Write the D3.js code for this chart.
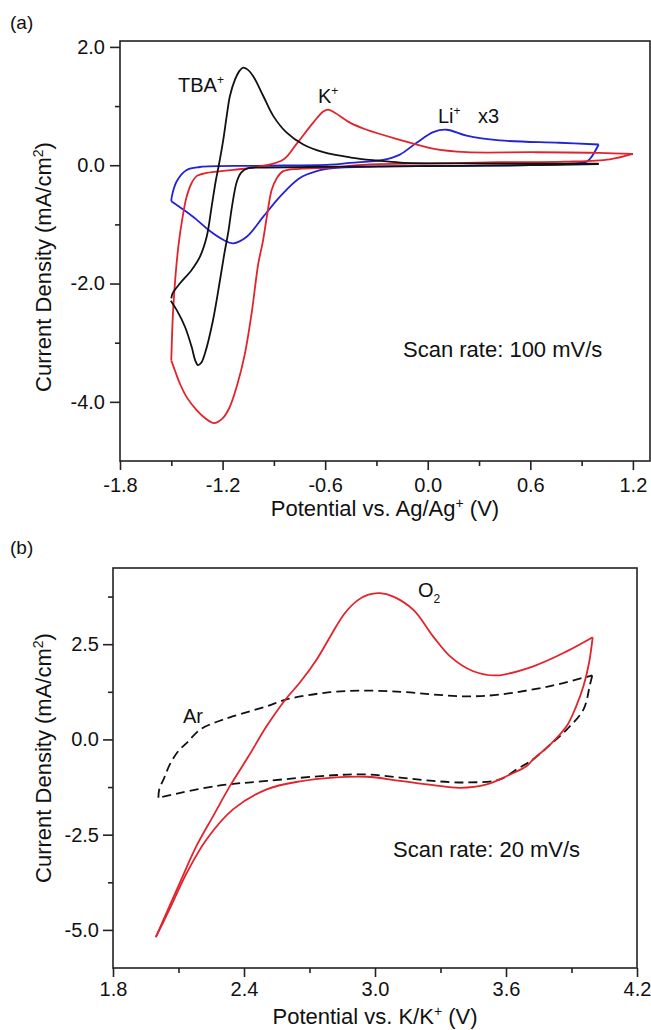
<!DOCTYPE html>
<html>
<head>
<meta charset="utf-8">
<script src="https://cdn.jsdelivr.net/npm/d3@7"></script>
<style>
body { margin: 0; background: #fff; }
svg text { font-family: "Liberation Sans", Arial, sans-serif; fill: #111; }
.axis path.domain { display: none; }
.axis line { stroke: #222; stroke-width: 1.6; }
.axis text { font-size: 20px; }
</style>
</head>
<body>
<div id="chart"></div>
<script>
// Panel (a): potential (V vs Ag/Ag+), current density (mA/cm2). Each CV is split
// into its negative-going and positive-going sweep.
var tbaCathodic = [[1.0, 0.02], [0.6, 0.0], [0.2, -0.01], [-0.3, -0.02], [-0.7, -0.03], [-0.95, -0.04],
	[-1.05, -0.05], [-1.09, -0.12], [-1.116, -0.27], [-1.145, -0.7], [-1.165, -1.1], [-1.19, -1.5],
	[-1.215, -1.94], [-1.256, -2.62], [-1.303, -3.18], [-1.325, -3.34], [-1.344, -3.38], [-1.36, -3.3],
	[-1.381, -3.07], [-1.42, -2.73], [-1.468, -2.45], [-1.503, -2.29]];
var tbaAnodic = [[-1.5, -2.25], [-1.493, -2.17], [-1.45, -2.0], [-1.381, -1.77], [-1.333, -1.55],
	[-1.293, -1.21], [-1.264, -0.7], [-1.239, -0.25], [-1.222, 0.0], [-1.196, 0.43], [-1.176, 0.83],
	[-1.157, 1.17], [-1.127, 1.45], [-1.1, 1.6], [-1.08, 1.65], [-1.055, 1.62], [-1.02, 1.5],
	[-0.962, 1.17], [-0.903, 0.83], [-0.825, 0.55], [-0.728, 0.35], [-0.611, 0.22], [-0.45, 0.13],
	[-0.3, 0.08], [-0.16, 0.045], [0.2, 0.03], [0.6, 0.025], [1.0, 0.025]];

var kCathodic = [[1.2, 0.19], [1.065, 0.1], [0.8, 0.06], [0.42, 0.05], [0.03, 0.03], [-0.36, 0.01],
	[-0.57, -0.04], [-0.75, -0.06], [-0.845, -0.1], [-0.883, -0.22], [-0.913, -0.42], [-0.94, -0.85],
	[-0.965, -1.3], [-0.991, -1.66], [-1.03, -2.5], [-1.069, -3.18], [-1.115, -3.72], [-1.16, -4.1],
	[-1.2, -4.28], [-1.25, -4.36], [-1.3, -4.28], [-1.352, -4.14], [-1.41, -3.92], [-1.45, -3.69],
	[-1.475, -3.5], [-1.5, -3.3]];
var kAnodic = [[-1.5, -3.3], [-1.488, -2.39], [-1.459, -1.38], [-1.43, -0.81], [-1.41, -0.53],
	[-1.381, -0.3], [-1.35, -0.18], [-1.293, -0.13], [-1.137, -0.08], [-0.942, 0.0], [-0.842, 0.1],
	[-0.767, 0.36], [-0.67, 0.72], [-0.611, 0.91], [-0.582, 0.94], [-0.55, 0.9], [-0.455, 0.72],
	[-0.357, 0.6], [-0.163, 0.43], [0.03, 0.28], [0.227, 0.22], [0.616, 0.22], [1.0, 0.21], [1.2, 0.19]];

// Li+ current shown x3
var liCathodic = [[1.0, 0.35], [0.96, 0.15], [0.93, 0.06], [0.85, 0.03], [0.6, 0.0], [0.2, -0.01],
	[-0.2, -0.02], [-0.55, -0.05], [-0.65, -0.1], [-0.75, -0.22], [-0.864, -0.53], [-0.962, -0.87],
	[-1.059, -1.21], [-1.137, -1.32], [-1.196, -1.26], [-1.28, -1.1], [-1.352, -0.92], [-1.43, -0.75],
	[-1.5, -0.61]];
var liAnodic = [[-1.5, -0.61], [-1.497, -0.53], [-1.468, -0.27], [-1.41, -0.08], [-1.332, -0.03],
	[-1.0, -0.01], [-0.572, 0.01], [-0.455, 0.04], [-0.26, 0.09], [-0.163, 0.18], [-0.065, 0.38],
	[0.032, 0.56], [0.11, 0.6], [0.227, 0.5], [0.42, 0.42], [0.77, 0.38], [1.0, 0.35]];

// Panel (b): potential (V vs K/K+), current density (mA/cm2)
var o2Anodic = [[1.996, -5.19], [2.046, -4.54], [2.107, -3.75], [2.183, -2.79], [2.26, -2.0],
	[2.336, -1.22], [2.42, -0.45], [2.504, 0.35], [2.59, 1.05], [2.657, 1.5], [2.733, 2.1],
	[2.8, 2.75], [2.86, 3.3], [2.92, 3.65], [2.97, 3.8], [3.023, 3.84], [3.084, 3.75], [3.176, 3.4],
	[3.267, 2.7], [3.344, 2.18], [3.45, 1.79], [3.558, 1.68], [3.725, 1.92], [3.878, 2.31], [3.997, 2.68]];
var o2Cathodic = [[3.997, 2.68], [3.98, 2.0], [3.955, 1.4], [3.92, 0.85], [3.878, 0.35], [3.8, -0.15],
	[3.725, -0.52], [3.695, -0.7], [3.604, -0.96], [3.512, -1.18], [3.389, -1.27], [3.267, -1.2],
	[3.115, -1.09], [2.962, -0.98], [2.809, -1.0], [2.657, -1.1], [2.504, -1.31], [2.351, -1.83],
	[2.229, -2.62], [2.138, -3.5], [2.08, -4.2], [2.03, -4.8], [1.996, -5.19]];

var arAnodic = [[2.008, -1.53], [2.012, -1.31], [2.035, -1.0], [2.061, -0.65], [2.1, -0.3],
	[2.138, -0.09], [2.199, 0.26], [2.27, 0.45], [2.351, 0.61], [2.504, 0.87], [2.595, 1.05],
	[2.794, 1.24], [2.962, 1.28], [3.12, 1.25], [3.267, 1.18], [3.42, 1.13], [3.573, 1.18],
	[3.802, 1.4], [3.955, 1.62], [3.995, 1.68]];
var arCathodic = [[3.995, 1.68], [3.985, 1.45], [3.955, 0.79], [3.878, 0.26], [3.8, -0.15],
	[3.725, -0.52], [3.648, -0.79], [3.573, -1.05], [3.42, -1.13], [3.267, -1.09], [3.115, -1.0],
	[2.962, -0.92], [2.809, -0.94], [2.504, -1.09], [2.275, -1.22], [2.046, -1.48], [2.008, -1.53]];

// Tick values
var xTicksA = [-1.8, -1.2, -0.6, 0.0, 0.6, 1.2];
var xMinorA = [-1.5, -0.9, -0.3, 0.3, 0.9];
var yTicksA = [-4.0, -2.0, 0.0, 2.0];
var yMinorA = [-3.0, -1.0, 1.0];
var xTicksB = [1.8, 2.4, 3.0, 3.6, 4.2];
var xMinorB = [2.1, 2.7, 3.3, 3.9];
var yTicksB = [-5.0, -2.5, 0.0, 2.5];
var yMinorB = [-3.75, -1.25, 1.25, 3.75];

var width = 651;
var height = 1030;

var red = "#e3232b";
var blue = "#2222d8";
var black = "#111";

var svg = d3.select("#chart").append("svg")
		.attr("width", width)
		.attr("height", height);

var panelA = { left: 120, right: 650, top: 41, bottom: 461 };
var panelB = { left: 113, right: 637, top: 568, bottom: 968 };

var xA = d3.scaleLinear().domain([-1.8, 1.3]).range([panelA.left, panelA.right]);
var yA = d3.scaleLinear().domain([-5, 2.1]).range([panelA.bottom, panelA.top]);
var xB = d3.scaleLinear().domain([1.8, 4.2]).range([panelB.left, panelB.right]);
var yB = d3.scaleLinear().domain([-6, 4.5]).range([panelB.bottom, panelB.top]);

function fmt(d) { return d.toFixed(1); }

function drawAxes(p, x, y, xMajor, xMinor, yMajor, yMinor, xPad, yPad) {
	var g = svg.append("g");
	g.append("g").attr("class", "axis")
			.attr("transform", "translate(0," + p.bottom + ")")
			.call(d3.axisBottom(x).tickValues(xMajor).tickFormat(fmt)
				.tickSize(9).tickSizeOuter(0).tickPadding(xPad));
	g.append("g").attr("class", "axis")
			.attr("transform", "translate(0," + p.bottom + ")")
			.call(d3.axisBottom(x).tickValues(xMinor).tickFormat("").tickSize(5).tickSizeOuter(0));
	g.append("g").attr("class", "axis")
			.attr("transform", "translate(" + p.left + ",0)")
			.call(d3.axisLeft(y).tickValues(yMajor).tickFormat(fmt)
				.tickSize(10).tickSizeOuter(0).tickPadding(yPad));
	g.append("g").attr("class", "axis")
			.attr("transform", "translate(" + p.left + ",0)")
			.call(d3.axisLeft(y).tickValues(yMinor).tickFormat("").tickSize(5).tickSizeOuter(0));
	g.append("rect")
			.attr("x", p.left).attr("y", p.top)
			.attr("width", p.right - p.left).attr("height", p.bottom - p.top)
			.attr("fill", "none").attr("stroke", "#222").attr("stroke-width", 1.6);
}

function drawCurves(series, x, y) {
	var line = d3.line()
			.x(function(d) { return x(d[0]); })
			.y(function(d) { return y(d[1]); })
			.curve(d3.curveCatmullRom.alpha(0.5));
	svg.append("g").selectAll("path")
			.data(series)
			.enter().append("path")
			.attr("d", function(s) { return line(s.data); })
			.attr("fill", "none")
			.attr("stroke", function(s) { return s.color; })
			.attr("stroke-width", 1.8)
			.attr("stroke-linejoin", "round")
			.attr("stroke-dasharray", function(s) { return s.dash || null; });
}

drawAxes(panelA, xA, yA, xTicksA, xMinorA, yTicksA, yMinorA, 8, 5);
drawAxes(panelB, xB, yB, xTicksB, xMinorB, yTicksB, yMinorB, 5, 4);

drawCurves([
	{ data: liCathodic, color: blue }, { data: liAnodic, color: blue },
	{ data: kCathodic, color: red }, { data: kAnodic, color: red },
	{ data: tbaCathodic, color: black }, { data: tbaAnodic, color: black }
], xA, yA);

drawCurves([
	{ data: arAnodic, color: black, dash: "9,5" }, { data: arCathodic, color: black, dash: "9,5" },
	{ data: o2Anodic, color: red }, { data: o2Cathodic, color: red }
], xB, yB);

// Text with an optional raised or lowered trailing part.
function label(x, y, size, main, extra, shift) {
	var t = svg.append("text").attr("x", x).attr("y", y).style("font-size", size + "px").text(main);
	if (extra) {
		t.append("tspan").attr("dy", shift).style("font-size", Math.round(size * 0.62) + "px").text(extra);
	}
	return t;
}

label(10, 29, 19, "(a)");
label(10, 554, 19, "(b)");

label(178, 92, 20, "TBA", "+", -8);
label(318, 103, 20, "K", "+", -8);
label(438, 123, 20, "Li", "+", -8);
label(478, 123, 20, "x3");
label(403, 357, 22, "Scan rate: 100 mV/s");

label(418, 597, 20, "O", "2", 6);
label(183, 723, 20, "Ar");
label(393, 857, 22, "Scan rate: 20 mV/s");

// Axis titles
function xTitle(cx, y, ref) {
	var t = svg.append("text").attr("x", cx).attr("y", y)
			.attr("text-anchor", "middle").style("font-size", "22px");
	t.append("tspan").text("Potential vs. " + ref);
	t.append("tspan").attr("dy", -8).style("font-size", "14px").text("+");
	t.append("tspan").attr("dy", 8).text(" (V)");
}

function yTitle(x, cy) {
	var t = svg.append("text")
			.attr("transform", "translate(" + x + "," + cy + ") rotate(-90)")
			.attr("text-anchor", "middle").style("font-size", "22px");
	t.append("tspan").text("Current Density (mA/cm");
	t.append("tspan").attr("dy", -8).style("font-size", "14px").text("2");
	t.append("tspan").attr("dy", 8).text(")");
}

xTitle((panelA.left + panelA.right) / 2, 516, "Ag/Ag");
xTitle((panelB.left + panelB.right) / 2, 1024, "K/K");
yTitle(51, 267);
yTitle(51, 758);
</script>
</body>
</html>
